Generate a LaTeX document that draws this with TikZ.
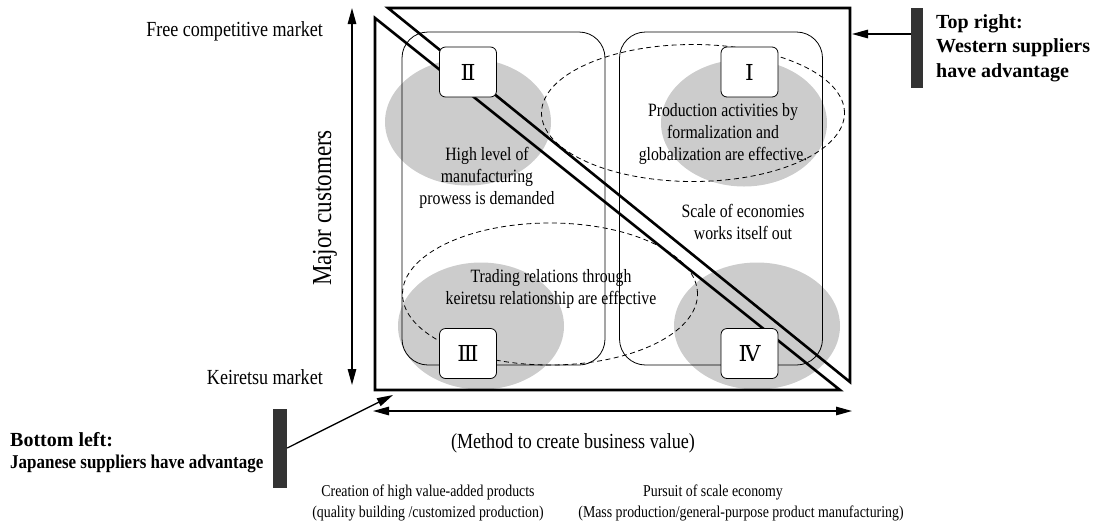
\documentclass[tikz,border=0pt]{standalone}
\usepackage{fontspec}
\setmainfont{Liberation Serif}[FakeStretch=0.84]
\newfontfamily\plainserif{Liberation Serif}
\newfontfamily\condbold{Liberation Serif}[FakeStretch=0.87]
\newfontfamily\numfont{DejaVu Serif}
\usetikzlibrary{arrows.meta,shapes.geometric}

\begin{document}
\begin{tikzpicture}[x=1pt,y=-1pt,
  frame/.style={line width=2.6pt, line join=miter},
  panel/.style={draw, line width=0.8pt, rounded corners=26pt, inner sep=0pt,
                minimum width=203pt, minimum height=333pt},
  zone/.style={ellipse, fill=black!20, inner sep=0pt,
               minimum width=166pt, minimum height=127pt},
  reach/.style={ellipse, draw, dashed, dash pattern=on 5pt off 3.5pt,
                line width=0.8pt, inner sep=0pt},
  numbox/.style={draw, fill=white, line width=0.8pt, rounded corners=6pt,
                 minimum width=57pt, minimum height=50pt, inner sep=0pt,
                 font=\numfont\fontsize{22}{22}\selectfont},
  lbl/.style={inner sep=0pt, font=\fontsize{21.5}{24}\selectfont},
  inner/.style={align=center, inner sep=0pt, font=\fontsize{18.8}{22}\selectfont},
  foot/.style={align=center, inner sep=0pt, font=\fontsize{16.5}{21}\selectfont},
  note/.style={align=left, inner sep=0pt, font=\plainserif\bfseries\fontsize{20}{24.5}\selectfont},
  bar/.style={fill=black!80, inner sep=0pt},
  axis/.style={{Triangle[length=16pt,width=8.5pt]}-{Triangle[length=16pt,width=8.5pt]}, line width=1.3pt},
  tip/.style={-{Triangle[length=16pt,width=8.5pt]}, line width=1.3pt},
]
\useasboundingbox (0,0) rectangle (1101,523);

% shaded quadrant zones
\node[zone] (z2) at (468,122) {};
\node[zone] (z1) at (744,123) {};
\node[zone] (z3) at (481,326) {};
\node[zone] (z4) at (757,326) {};

% two value-creation panels
\node[panel] (pl) at (503.5,198.5) {};
\node[panel] (pr) at (721,198.5) {};

% dashed reach of the two strategies
\node[reach, minimum width=303pt, minimum height=137pt] (ru) at (693,113) {};
\node[reach, minimum width=295pt, minimum height=142pt] (rl) at (550,294) {};

% split frame: upper-right and lower-left triangles
\draw[frame] (388,8) -- (850,8) -- (850,382) -- cycle;
\draw[frame] (375,18) -- (375,390) -- (840,390) -- cycle;

% quadrant numbers
\node[numbox] (q2) at (468,72) {Ⅱ};
\node[numbox] (q1) at (749.5,72) {Ⅰ};
\node[numbox] (q3) at (468,353.5) {Ⅲ};
\node[numbox] (q4) at (749.5,353.5) {Ⅳ};

% quadrant texts
\node[inner] (t2) at (487,178) {High level of\\manufacturing\\prowess is demanded};
\node[inner] (t1) at (723,134) {Production activities by\\formalization and\\globalization are effective.};
\node[inner] (t4) at (743,222) {Scale of economies\\works itself out};
\node[inner] (t3) at (551,289) {Trading relations through\\keiretsu relationship are effective};

% vertical axis
\coordinate (vtop) at (352,8);
\coordinate (vbot) at (352,385);
\draw[axis] (vtop) -- (vbot);
\node[lbl, anchor=east] (free) at (323,31) {Free competitive market};
\node[lbl, anchor=east] (keir) at (323,377) {Keiretsu market};
\node[lbl, rotate=90, font=\fontsize{27.5}{28}\selectfont] (major) at (325,208) {Major customers};

% horizontal axis
\coordinate (hl) at (373,411);
\coordinate (hr) at (852,411);
\draw[axis] (hl) -- (hr);
\node[lbl] (method) at (573,443) {(Method to create business value)};
\node[foot] (left) at (428,502.5) {Creation of high value-added products\\(quality building /customized production)};
\node[foot] (right1) at (713,492) {Pursuit of scale economy};
\node[foot] (right2) at (741,513) {(Mass production/general-purpose product manufacturing)};

% top-right marker
\node[bar, minimum width=12pt, minimum height=80pt] (trbar) at (917,48) {};
\coordinate (trtip) at (852,34);
\draw[tip] (trbar.west |- trtip) -- (trtip);
\node[note, anchor=west] (trnote) at (936,48) {Top right:\\Western suppliers\\have advantage};

% bottom-left marker
\node[bar, minimum width=14pt, minimum height=79pt] (blbar) at (280,448) {};
\coordinate (bltip) at (393,395);
\draw[tip] (blbar.east) -- (bltip);
\node[note, anchor=west] (blnote1) at (10,440) {Bottom left:};
\node[note, anchor=west, font=\condbold\bfseries\fontsize{19.5}{22}\selectfont] (blnote2) at (10,464) {Japanese suppliers have advantage};
\end{tikzpicture}
\end{document}
